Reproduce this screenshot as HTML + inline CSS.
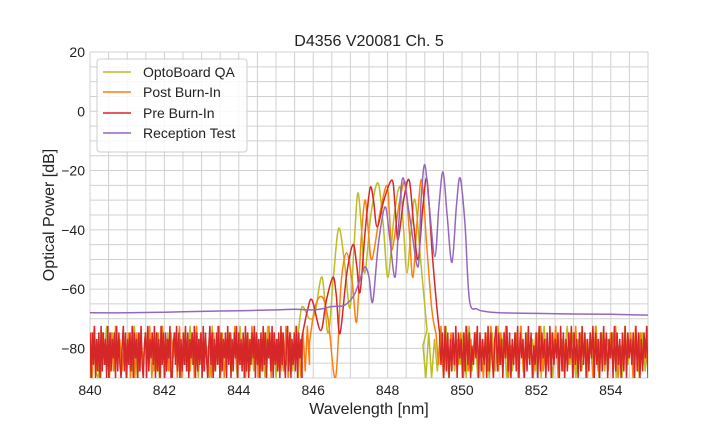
<!DOCTYPE html>
<html><head><meta charset="utf-8"><style>
body{margin:0;background:#fff}
svg text{font-family:"Liberation Sans",Arial,sans-serif;fill:#222}
</style></head><body>
<svg id="chart" width="720" height="432" viewBox="0 0 720 432" xmlns="http://www.w3.org/2000/svg">
<defs><clipPath id="pc"><rect x="90" y="52" width="558" height="326"/></clipPath></defs>
<rect x="90" y="52" width="558" height="326" fill="#fff"/>
<g id="grid"></g>
<g id="series" clip-path="url(#pc)"></g>
<g id="ticks"></g>
<text x="369" y="46" text-anchor="middle" font-size="16">D4356 V20081 Ch. 5</text>
<text x="369" y="414" text-anchor="middle" font-size="16">Wavelength [nm]</text>
<text transform="translate(54,215) rotate(-90)" text-anchor="middle" font-size="16">Optical Power [dB]</text>
<g>
<rect x="97" y="59" width="150" height="93" rx="3" fill="#fff" fill-opacity="0.85" stroke="#ccc"/>
<g><line x1="103" y1="72" x2="131" y2="72" stroke="#bcbd22" stroke-width="1.5"/><text x="143" y="77" font-size="14">OptoBoard QA</text></g>
<g><line x1="103" y1="92" x2="131" y2="92" stroke="#ff7f0e" stroke-width="1.5"/><text x="143" y="97" font-size="14">Post Burn-In</text></g>
<g><line x1="103" y1="113" x2="131" y2="113" stroke="#d62728" stroke-width="1.5"/><text x="143" y="118" font-size="14">Pre Burn-In</text></g>
<g><line x1="103" y1="133" x2="131" y2="133" stroke="#9467bd" stroke-width="1.5"/><text x="143" y="138" font-size="14">Reception Test</text></g>
</g>
</svg>
<script>
const xTicks=[840,842,844,846,848,850,852,854];
const yTicks=[20,0,-20,-40,-60,-80];
// signal regions: [wavelength, dB]
const oliveWl=[845.6,845.7,845.9,846.05,846.24,846.4,846.55,846.69,846.85,846.99,847.1,847.2,847.3,847.39,847.55,847.74,847.88,848.01,848.17,848.33,848.43,848.52,848.63,848.74,848.9,849.06];
const oliveDb=[-75,-66,-70,-68,-56,-75,-55,-39.4,-52,-66.4,-45,-27.6,-40,-54.6,-35,-24.2,-38,-56,-36,-25.5,-40,-54.6,-40,-30,-52,-73.8];
const orangeWl=[845.9,846.05,846.24,846.4,846.6,846.75,846.9,847.05,847.17,847.28,847.39,847.48,847.58,847.8,847.98,848.05,848.12,848.3,848.47,848.58,848.68,848.8,848.92,849.05,849.19,849.3];
const orangeDb=[-78,-66,-62.6,-70,-90,-58,-47.8,-58,-71,-45,-30,-40,-50,-34,-25,-35,-46.8,-32,-23.9,-40,-56,-36,-23.2,-45,-67,-75];
const redWl=[845.7,845.85,845.97,846.2,846.35,846.53,846.62,846.72,846.9,847.07,847.17,847.26,847.4,847.53,847.62,847.72,847.9,848.12,848.2,848.28,848.43,848.58,848.7,848.82,848.95,849.06,849.2,849.33,849.4];
const redDb=[-76,-67,-63.7,-74,-64,-56,-62,-75,-55,-45,-52,-61,-40,-25.9,-30,-39,-30,-23.2,-32,-43.4,-30,-23.2,-38,-50,-32,-23.2,-48,-67,-75];
const purpleWl=[840,841,842,843,844,845,845.5,846,846.3,846.45,846.6,846.85,847.1,847.25,847.39,847.5,847.6,847.75,847.93,848.05,848.2,848.3,848.41,848.6,848.82,848.9,849.0,849.12,849.27,849.38,849.49,849.6,849.73,849.85,849.95,850.08,850.2,850.4,850.6,851,852,853,854,855];
const purpleDb=[-68,-68,-67.8,-67.5,-67.3,-67,-66.8,-67,-66.5,-66,-65.8,-65.4,-62,-57,-52.5,-56,-64.3,-45,-32.3,-42,-56,-38,-22.5,-36,-52.5,-30,-18,-32,-49,-32,-20.5,-35,-51,-32,-22.5,-38,-63.7,-66.7,-67.5,-68,-68.2,-68.4,-68.5,-68.8];
// noise floors: digit d -> -90 + d*2.2 dB, evenly spaced between start and end wavelengths
const oliveNoiseL=[840,845.6,"0710638071527061807263517080716250718270635081706271608273517060827061527180"];
const oliveNoiseR=[848.95,855,"5070617280516270817063507182706152807361708250716382706150728071637050827160718"];
const orangeNoiseL=[840,845.9,"70816072507183615270807162738051708261737080526170837162507281706373815260718270617380526171807263507182"];
const orangeNoiseR=[849.3,855,"72806173527081627350718261738052708163507281627380516270817362508173617280526370817261"];
const redNoiseL=[840,845.7,"707280617081726080716370817205817062718073607182057081637280716082707163800572817061728170637280716270817305827061728071637082706173807261708170627380726071827063718072617082730581706271807360"];
const redNoiseR=[849.4,855,"627081706172807360718270527380716270817306817260738170627180736071827052708173607180726370817061738072607182706173807260718270637081726071807362708170617380"];
const X=v=>90+(v-840)*558/15;
const Y=v=>52+(20-v)*326/110;
const NS="http://www.w3.org/2000/svg";
const grid=document.getElementById('grid'),ser=document.getElementById('series'),tk=document.getElementById('ticks');
for(let w=840;w<=855.001;w+=0.5){const l=document.createElementNS(NS,'line');


l.setAttribute('x1',X(w));l.setAttribute('x2',X(w));l.setAttribute('y1',52);l.setAttribute('y2',378);l.setAttribute('stroke','#d0d0d0');l.setAttribute('stroke-width','1');grid.appendChild(l);}
for(let d=-90;d<=20;d+=5){const l=document.createElementNS(NS,'line');


l.setAttribute('x1',90);l.setAttribute('x2',648);l.setAttribute('y1',Y(d));l.setAttribute('y2',Y(d));l.setAttribute('stroke','#d0d0d0');l.setAttribute('stroke-width','1');grid.appendChild(l);}
xTicks.forEach(t=>{const e=document.createElementNS(NS,'text');


e.setAttribute('x',X(t));e.setAttribute('y',395);e.setAttribute('text-anchor','middle');e.setAttribute('font-size','14');e.textContent=t;tk.appendChild(e);});
yTicks.forEach(t=>{const e=document.createElementNS(NS,'text');


e.setAttribute('x',85);e.setAttribute('y',Y(t)+5);e.setAttribute('text-anchor','end');e.setAttribute('font-size','14');e.textContent=t<0?'\u2212'+(-t):t;tk.appendChild(e);});
function noisePts(n){const[s,e,str]=n;const k=str.length;const out=[];for(let i=0;i<k;i++){out.push([s+(e-s)*i/(k-1),-90+(+str[i])*2.2]);}return out;}
function sigPts(w,d){return w.map((v,i)=>[v,d[i]]);}
function lineD(pts,start){return pts.map((q,i)=>(i===0&&start?'M':'L')+X(q[0]).toFixed(2)+','+Y(q[1]).toFixed(2)).join(' ');}
function splineD(pts){const P=pts.map(q=>[X(q[0]),Y(q[1])]);let d='';
for(let i=0;i<P.length-1;i++){const p0=P[Math.max(0,i-1)],p1=P[i],p2=P[i+1],p3=P[Math.min(P.length-1,i+2)];
const c1=[p1[0]+(p2[0]-p0[0])/6,p1[1]+(p2[1]-p0[1])/6],c2=[p2[0]-(p3[0]-p1[0])/6,p2[1]-(p3[1]-p1[1])/6];
d+=' C'+c1[0].toFixed(2)+','+c1[1].toFixed(2)+' '+c2[0].toFixed(2)+','+c2[1].toFixed(2)+' '+p2[0].toFixed(2)+','+p2[1].toFixed(2);}
return d;}
function draw(nl,sig,nr,color,name){let d='';
if(nl){d=lineD(noisePts(nl),true)+' L'+X(sig[0][0]).toFixed(2)+','+Y(sig[0][1]).toFixed(2);}
else{d='M'+X(sig[0][0]).toFixed(2)+','+Y(sig[0][1]).toFixed(2);}
d+=splineD(sig);
if(nr){d+=' '+lineD(noisePts(nr),false);}
const p=document.createElementNS(NS,'path');


p.setAttribute('d',d);p.setAttribute('fill','none');p.setAttribute('stroke',color);p.setAttribute('stroke-width','1.5');ser.appendChild(p);}
draw(oliveNoiseL,sigPts(oliveWl,oliveDb),oliveNoiseR,'#bcbd22','optoboard-qa-line');
draw(orangeNoiseL,sigPts(orangeWl,orangeDb),orangeNoiseR,'#ff7f0e','post-burn-in-line');
draw(redNoiseL,sigPts(redWl,redDb),redNoiseR,'#d62728','pre-burn-in-line');
draw(null,sigPts(purpleWl,purpleDb),null,'#9467bd','reception-test-line');
</script>
</body></html>
